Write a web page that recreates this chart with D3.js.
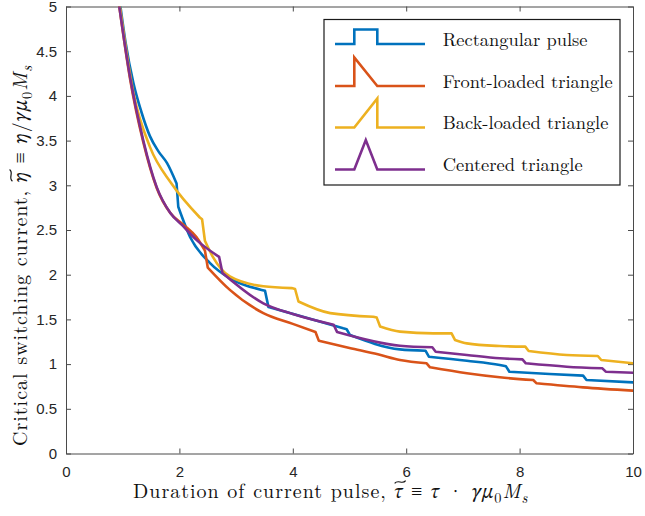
<!DOCTYPE html>
<html>
<head>
<meta charset="utf-8">
<script src="https://cdn.jsdelivr.net/npm/d3@7"></script>
<style>
  html, body { margin: 0; padding: 0; background: #ffffff; }
  svg { display: block; }
  .lm { font-family: "Latin Modern Roman", "Liberation Serif", "DejaVu Serif", serif; }
  .gk { font-family: "STIX Two Text", "FreeSerif", "Liberation Serif", serif; font-style: italic; }
  .it { font-family: "Latin Modern Roman", "Liberation Serif", serif; font-style: italic; }
  .sans { font-family: "Liberation Sans", Arial, "DejaVu Sans", sans-serif; }
</style>
</head>
<body>
<svg id="chart" width="645" height="516"></svg>
<script>
// ---------------- data ----------------
const seriesNames = ["Rectangular pulse", "Front-loaded triangle", "Back-loaded triangle", "Centered triangle"];
const seriesColors = ["#0072BD", "#D95319", "#EDB120", "#7E2F8E"];

// Rectangular pulse (blue)
const rectX = [0.96, 1.05, 1.19, 1.33, 1.48, 1.63, 1.78, 1.95, 1.98, 2.19, 2.54, 2.89, 3.45, 3.51, 3.57, 4.07, 4.89, 4.95, 5.01, 5.89, 6.34, 6.40, 7.07, 7.65, 7.76, 7.82, 8.53, 9.12, 9.18, 10];
const rectY = [5.0, 4.6, 4.14, 3.82, 3.55, 3.38, 3.25, 3.02, 2.76, 2.42, 2.13, 1.96, 1.83, 1.82, 1.64, 1.55, 1.40, 1.39, 1.325, 1.165, 1.15, 1.083, 1.038, 0.99, 0.975, 0.915, 0.889, 0.871, 0.822, 0.796];

// Front-loaded triangle (orange)
const frontX = [0.94, 1.13, 1.36, 1.6, 1.84, 2.07, 2.30, 2.45, 2.50, 2.89, 3.48, 4.0, 4.40, 4.46, 5.0, 5.5, 5.89, 6.36, 6.42, 7.07, 7.65, 8.24, 8.30, 9.12, 10];
const frontY = [5.0, 4.19, 3.49, 2.97, 2.69, 2.56, 2.42, 2.27, 2.08, 1.83, 1.57, 1.45, 1.36, 1.26, 1.18, 1.11, 1.046, 1.009, 0.964, 0.897, 0.852, 0.822, 0.785, 0.740, 0.703];

// Back-loaded triangle (yellow)
const backX = [0.95, 1.19, 1.48, 1.86, 2.36, 2.40, 2.45, 2.59, 2.89, 3.48, 3.98, 4.04, 4.10, 4.66, 5.42, 5.48, 5.54, 5.89, 6.48, 6.80, 6.86, 7.07, 7.65, 8.10, 8.16, 8.83, 9.38, 9.44, 10];
const backY = [5.0, 4.03, 3.43, 3.02, 2.64, 2.62, 2.38, 2.20, 1.98, 1.87, 1.85, 1.84, 1.70, 1.57, 1.53, 1.52, 1.42, 1.363, 1.344, 1.344, 1.270, 1.232, 1.202, 1.195, 1.147, 1.102, 1.091, 1.046, 1.009];

// Centered triangle (purple)
const centX = [0.94, 1.13, 1.36, 1.6, 1.84, 2.07, 2.30, 2.70, 2.76, 3.48, 4.0, 4.72, 4.78, 5.89, 6.46, 6.52, 7.07, 7.65, 8.05, 8.11, 8.83, 9.46, 9.52, 10];
const centY = [5.0, 4.21, 3.51, 2.98, 2.69, 2.54, 2.39, 2.20, 2.02, 1.68, 1.56, 1.44, 1.36, 1.206, 1.188, 1.139, 1.102, 1.065, 1.053, 1.009, 0.971, 0.953, 0.915, 0.904];

const xTicks = [0, 2, 4, 6, 8, 10];
const xTickLabels = ["0", "2", "4", "6", "8", "10"];
const yTicks = [0, 0.5, 1, 1.5, 2, 2.5, 3, 3.5, 4, 4.5, 5];
const yTickLabels = ["0", "0.5", "1", "1.5", "2", "2.5", "3", "3.5", "4", "4.5", "5"];

// ---------------- layout ----------------
const W = 645, H = 516;
const plot = { left: 66, right: 633, top: 6.5, bottom: 453.5 };
const svg = d3.select("#chart");
svg.append("rect").attr("width", W).attr("height", H).attr("fill", "#fff");

const x = d3.scaleLinear().domain([0, 10]).range([plot.left, plot.right]);
const y = d3.scaleLinear().domain([0, 5]).range([plot.bottom, plot.top]);

const axisColor = "#4a4a4a";

function styleAxis(g) {
  g.attr("font-family", null).attr("font-size", null);
  g.select(".domain").attr("stroke", axisColor).attr("stroke-width", 1);
  g.selectAll(".tick line").attr("stroke", axisColor).attr("stroke-width", 1);
  g.selectAll(".tick text").attr("fill", "#262626").attr("class", "sans").style("font-size", "15px");
}

const gB = svg.append("g").attr("transform", `translate(0,${plot.bottom})`)
  .call(d3.axisBottom(x).tickValues(xTicks).tickFormat((d, i) => xTickLabels[i]).tickSizeInner(-5).tickSizeOuter(0).tickPadding(13));
styleAxis(gB);
const gT = svg.append("g").attr("transform", `translate(0,${plot.top})`)
  .call(d3.axisTop(x).tickValues(xTicks).tickFormat("").tickSizeInner(-5).tickSizeOuter(0));
styleAxis(gT);
const gL = svg.append("g").attr("transform", `translate(${plot.left},0)`)
  .call(d3.axisLeft(y).tickValues(yTicks).tickFormat((d, i) => yTickLabels[i]).tickSizeInner(-5).tickSizeOuter(0).tickPadding(9));
styleAxis(gL);
const gR = svg.append("g").attr("transform", `translate(${plot.right},0)`)
  .call(d3.axisRight(y).tickValues(yTicks).tickFormat("").tickSizeInner(-5).tickSizeOuter(0));
styleAxis(gR);

svg.append("clipPath").attr("id", "clip").append("rect")
  .attr("x", plot.left).attr("y", plot.top)
  .attr("width", plot.right - plot.left).attr("height", plot.bottom - plot.top);

// smooth (monotone) runs, near-vertical jumps drawn straight
const smooth = d3.line().x(d => x(d[0])).y(d => y(d[1])).curve(d3.curveMonotoneX);
function stepPath(xs, ys) {
  const pts = d3.zip(xs, ys);
  const runs = [];
  let cur = [pts[0]];
  for (let k = 1; k < pts.length; k++) {
    const dx = pts[k][0] - pts[k - 1][0];
    if (dx <= 0.075) { runs.push(cur); cur = [pts[k]]; }
    else cur.push(pts[k]);
  }
  runs.push(cur);
  return runs.map((r, i) => {
    const s = r.length > 1 ? smooth(r) : `M${x(r[0][0])},${y(r[0][1])}`;
    return i === 0 ? s : "L" + s.slice(1);
  }).join("");
}

const seriesXY = [[rectX, rectY], [frontX, frontY], [backX, backY], [centX, centY]];

svg.append("g").attr("clip-path", "url(#clip)")
  .selectAll("path").data(seriesXY).join("path")
  .attr("d", d => stepPath(d[0], d[1]))
  .attr("fill", "none")
  .attr("stroke", (d, i) => seriesColors[i])
  .attr("stroke-width", 2.6)
  .attr("stroke-linejoin", "round")
  .attr("stroke-linecap", "round");

// ---------------- legend ----------------
const legend = svg.append("g");
const lg = { x0: 324, y0: 19.5, x1: 620, y1: 185 };
legend.append("rect").attr("x", lg.x0).attr("y", lg.y0)
  .attr("width", lg.x1 - lg.x0).attr("height", lg.y1 - lg.y0)
  .attr("fill", "#fff").attr("stroke", "#1a1a1a").attr("stroke-width", 1.2);

const rowBase = [44, 86, 127.5, 169.5];
const iconH = [14.5, 28.5, 29, 29.5];
const sx0 = 335, sa = 354.3, sb = 377.3, sx1 = 425;
const iconShapes = [
  (b, h) => [[sx0, b], [sa, b], [sa, b - h], [sb, b - h], [sb, b], [sx1, b]],
  (b, h) => [[sx0, b], [sa, b], [sa, b - h], [sb, b], [sx1, b]],
  (b, h) => [[sx0, b], [sa, b], [sb, b - h], [sb, b], [sx1, b]],
  (b, h) => [[sx0, b], [sa, b], [(sa + sb) / 2, b - h], [sb, b], [sx1, b]]
];
const legTexts = [];
seriesNames.forEach((name, i) => {
  const b = rowBase[i];
  legend.append("path")
    .attr("d", d3.line()(iconShapes[i](b, iconH[i])))
    .attr("fill", "none").attr("stroke", seriesColors[i]).attr("stroke-width", 2.6)
    .attr("stroke-linejoin", "miter");
  legTexts.push(legend.append("text").attr("class", "lm")
    .attr("x", 442.7).attr("y", b + 1.5)
    .style("font-size", "17.5px").attr("fill", "#111")
    .text(name));
});
{
  const w = legTexts[1].node().getComputedTextLength();
  const fs = 17.5 * 170 / w;
  legTexts.forEach(t => t.style("font-size", fs.toFixed(2) + "px"));
}

// ---------------- axis labels ----------------
function buildLabel(parent, parts, fs) {
  const t = parent.append("text").attr("x", 0).attr("y", 0).attr("fill", "#111").style("font-size", fs + "px");
  parts.forEach(p => {
    const s = t.append("tspan").attr("class", p.c || "lm").text(p.t);
    if (p.sub) s.attr("dy", (0.25 * fs).toFixed(2)).style("font-size", (0.72 * fs).toFixed(2) + "px");
    if (p.up) s.attr("dy", (-0.25 * fs).toFixed(2));
  });
  return t;
}
function addTilde(parent, textSel, charIndex, fs) {
  const e = textSel.node().getExtentOfChar(charIndex);
  const w = Math.max(e.width * 1.05, 0.55 * fs);
  const cx = e.x + e.width / 2 + 0.06 * fs;
  const yc = -0.8 * fs, a = 0.07 * fs;
  const x0 = cx - w / 2, x1 = cx + w / 2;
  parent.append("path")
    .attr("d", `M${x0},${yc + a} C${x0 + w * 0.3},${yc - 2.2 * a} ${x0 + w * 0.7},${yc + 2.2 * a} ${x1},${yc - a}`)
    .attr("fill", "none").attr("stroke", "#111").attr("stroke-width", Math.max(1, 0.06 * fs));
}

const xParts = [
  { t: "Duration of current pulse, " },
  { t: "τ", c: "gk" },
  { t: " ≡ " },
  { t: "τ", c: "gk" },
  { t: " · " },
  { t: "γμ", c: "gk" },
  { t: "0", sub: true },
  { t: "M", c: "it", up: true },
  { t: "s", c: "it", sub: true }
];
const yParts = [
  { t: "Critical switching current, " },
  { t: "η", c: "gk" },
  { t: " ≡ " },
  { t: "η", c: "gk" },
  { t: "/" },
  { t: "γμ", c: "gk" },
  { t: "0", sub: true },
  { t: "M", c: "it", up: true },
  { t: "s", c: "it", sub: true }
];

function fitLabel(parent, parts, target) {
  let fs = 18;
  let t = buildLabel(parent, parts, fs);
  const w = t.node().getComputedTextLength();
  fs = Math.min(20, fs * target / w);
  t.remove();
  t = buildLabel(parent, parts, fs);
  const w2 = t.node().getComputedTextLength();
  const n = parts.reduce((s, p) => s + p.t.length, 0);
  const ls = Math.max(0, Math.min(1, (target - w2) / n));
  t.style("letter-spacing", ls.toFixed(3) + "px");
  addTilde(parent, t, parts[0].t.length, fs);
  return t;
}

const gx = svg.append("g").attr("transform", "translate(133,498)");
fitLabel(gx, xParts, 458);

const gy = svg.append("g").attr("transform", "translate(27,446) rotate(-90)");
fitLabel(gy, yParts, 406);
</script>
</body>
</html>
